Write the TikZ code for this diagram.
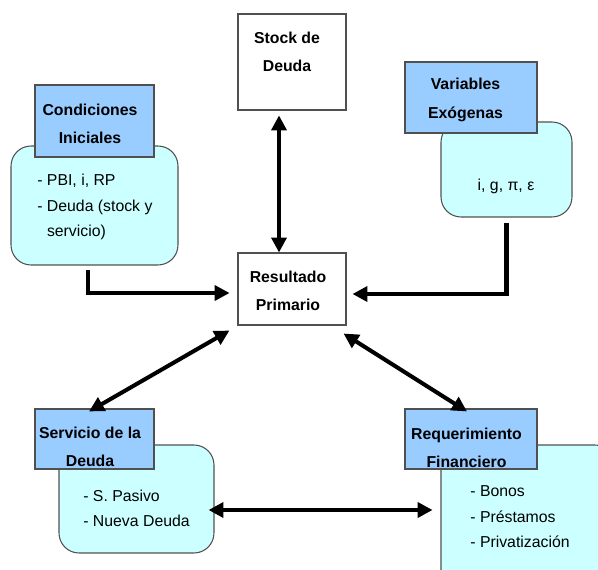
\documentclass[tikz,border=0pt]{standalone}
\usepackage{fontspec}
\setmainfont{Liberation Sans}
\usetikzlibrary{arrows.meta}
\definecolor{headblue}{HTML}{99CCFF}
\definecolor{bodycyan}{HTML}{CCFFFF}
\definecolor{edgegrey}{HTML}{505050}
\begin{document}
\begin{tikzpicture}[x=0.02cm, y=-0.02cm]
	\tikzset{hd/.style={draw=edgegrey, fill=headblue, line width=0.6pt, inner sep=0pt},
	bd/.style={draw=edgegrey, fill=bodycyan, line width=0.6pt, rounded corners=0.4cm, inner sep=0pt},
	bx/.style={draw=edgegrey, fill=white, line width=0.6pt, inner sep=0pt},
	ht/.style={inner sep=0pt, align=center, font=\fontsize{9}{16}\selectfont\bfseries},
	tx/.style={inner sep=0pt, align=left, font=\fontsize{9}{14.5}\selectfont},
	f/.style={line width=2.3pt, >={Triangle[length=8.5pt,width=8.5pt]}}};

	\clip (0,0) rectangle (598,570);

	\node[bx, minimum width=2.16cm, minimum height=1.92cm] (stock) at (292,62) {};
	\node[ht] (stocktext) at (287,52) {Stock de\\Deuda};
	\node[bx, minimum width=2.16cm, minimum height=1.44cm] (result) at (292,289) {};
	\node[ht] (resulttext) at (288,291) {Resultado\\Primario};

	\node[bd, minimum width=3.34cm, minimum height=2.38cm] (condbody) at (94.5,205.5) {};
	\node[hd, minimum width=2.38cm, minimum height=1.44cm] (cond) at (94.5,121) {};
	\node[ht] (condtitle) at (90,123.5) {Condiciones\\Iniciales};
	\node[tx, anchor=west] (condtext) at (37,207) {- PBI, i, RP\\- Deuda (stock y\\\phantom{- }servicio)};

	\node[bd, minimum width=2.62cm, minimum height=1.9cm] (varbody) at (506.5,169.5) {};
	\node[hd, minimum width=2.64cm, minimum height=1.42cm] (var) at (471,97.5) {};
	\node[ht] (vartitle) at (465.5,100) {Variables\\Exógenas};
	\node[tx] (vartext) at (506,186) {i, g, π, ε};

	\node[bd, minimum width=3.1cm, minimum height=2.16cm] (servbody) at (136.5,499) {};
	\node[hd, minimum width=2.38cm, minimum height=1.2cm] (serv) at (94.5,439) {};
	\node[ht] (servtitle) at (90,447) {Servicio de la\\Deuda};
	\node[tx, anchor=west] (servtext) at (83,508.5) {- S. Pasivo\\- Nueva Deuda};

	\node[bd, minimum width=3.48cm, minimum height=2.9cm] (reqbody) at (528,517.5) {};
	\node[hd, minimum width=2.64cm, minimum height=1.2cm] (req) at (471,439) {};
	\node[ht] (reqtitle) at (466.5,447.5) {Requerimiento\\Financiero};
	\node[tx, anchor=west] (reqtext) at (470,517) {- Bonos\\- Préstamos\\- Privatización};

	\coordinate (stockx) at (279,0);
	\coordinate (condx) at (88,0);
	\coordinate (bottomy) at (0,510);

	\draw[f, <->, shorten <=2.8pt] (stock.south -| stockx) -- (result.north -| stockx);
	\draw[f, ->, shorten <=2.8pt, shorten >=4.5pt] (condbody.south -| condx) |- ([yshift=-0.08cm]result.west);
	\draw[f, ->, shorten <=3.4pt, shorten >=3.4pt] (varbody.south) |- ([yshift=-0.1cm]result.east);
	\draw[f, <->] ([shift={(-8,5)}]result.south west) -- ([shift={(-5.5,3)}]serv.north);
	\draw[f, <->] ([shift={(-3,8)}]result.south east) -- ([shift={(-4,3)}]req.north);
	\draw[f, <->, shorten <=-3.4pt, shorten >=4.5pt] (servbody.east |- bottomy) -- (reqbody.west |- bottomy);
\end{tikzpicture}
\end{document}
